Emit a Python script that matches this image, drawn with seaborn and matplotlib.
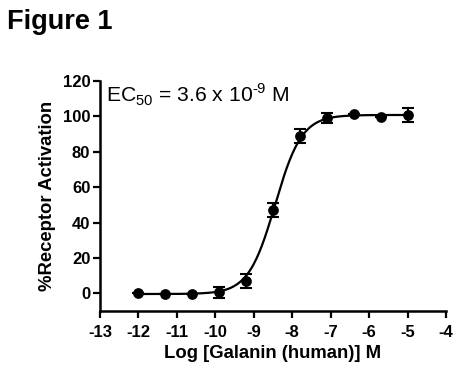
import numpy as np
import pandas as pd
import matplotlib
matplotlib.use("Agg")
import matplotlib.pyplot as plt
import seaborn as sns

# Data
log_conc = [-12.0, -11.3, -10.6, -9.9, -9.2, -8.5, -7.8, -7.1, -6.4, -5.7, -5.0]
activation = [0.0, -0.5, -0.5, 0.5, 7.0, 47.0, 89.0, 99.0, 101.5, 99.5, 101.0]
sem = [0.0, 0.0, 0.0, 3.0, 4.0, 4.0, 4.0, 3.0, 0.0, 0.0, 4.0]

# Four-parameter logistic fit parameters (EC50 = 3.6 nM)
fit_bottom = -0.4
fit_top = 100.8
fit_log_ec50 = np.log10(3.6e-9)
fit_hill = 1.25

x_ticks = [-13, -12, -11, -10, -9, -8, -7, -6, -5, -4]
y_ticks = [0, 20, 40, 60, 80, 100, 120]

sns.set_style("ticks")
plt.rcParams['font.family'] = ['Liberation Sans', 'DejaVu Sans']
plt.rcParams['mathtext.fontset'] = 'custom'
plt.rcParams['mathtext.rm'] = 'Liberation Sans'
for k in ["text.color", "axes.labelcolor", "xtick.color", "ytick.color", "axes.edgecolor"]:
    plt.rcParams[k] = "black"

fig = plt.figure(figsize=(4.68, 3.78), dpi=100)
ax = fig.add_axes([100/468, 1-311/378, 346/468, 230/378])

xs = np.linspace(-12.0, -5.0, 300)
ys = fit_bottom + (fit_top - fit_bottom) / (1 + 10 ** ((fit_log_ec50 - xs) * fit_hill))
curve = pd.DataFrame({"x": xs, "y": ys})
pts = pd.DataFrame({"x": log_conc, "y": activation, "e": sem})

sns.lineplot(data=curve, x="x", y="y", ax=ax, color="black", linewidth=1.6)
ax.errorbar(pts["x"], pts["y"], yerr=pts["e"], fmt="none", ecolor="black",
            elinewidth=1.5, capsize=4, capthick=1.5, zorder=3)
sns.scatterplot(data=pts, x="x", y="y", ax=ax, color="black", s=60,
                edgecolor="black", linewidth=0, zorder=4)

ax.set_xlim(-13, -4)
ax.set_ylim(-10, 120)
ax.set_xticks(x_ticks)
ax.set_yticks(y_ticks)
ax.set_xticklabels([str(t) for t in x_ticks], fontsize=12, fontweight="bold")
ax.set_yticklabels([str(t) for t in y_ticks], fontsize=12, fontweight="bold")
ax.set_xlabel("Log [Galanin (human)] M", fontsize=13.3, fontweight="bold", labelpad=4)
ax.set_ylabel("%Receptor Activation", fontsize=13.3, fontweight="bold", labelpad=5)
for s in ["top", "right"]:
    ax.spines[s].set_visible(False)
for s in ["left", "bottom"]:
    ax.spines[s].set_linewidth(1.8)
ax.tick_params(axis="both", direction="out", length=5, width=1.6, colors="black")
ax.tick_params(axis="x", pad=5)
ax.tick_params(axis="y", pad=2)

ax.text(-12.85, 119.5, "EC$_{50}$ = 3.6 x 10$^{\u20109}$ M", fontsize=15.2, va="top", ha="left")

fig.text(7/468, 1-29/378, "Figure 1", fontsize=19.5, fontweight="bold", ha="left", va="baseline")

fig.savefig("out.png", dpi=100)
